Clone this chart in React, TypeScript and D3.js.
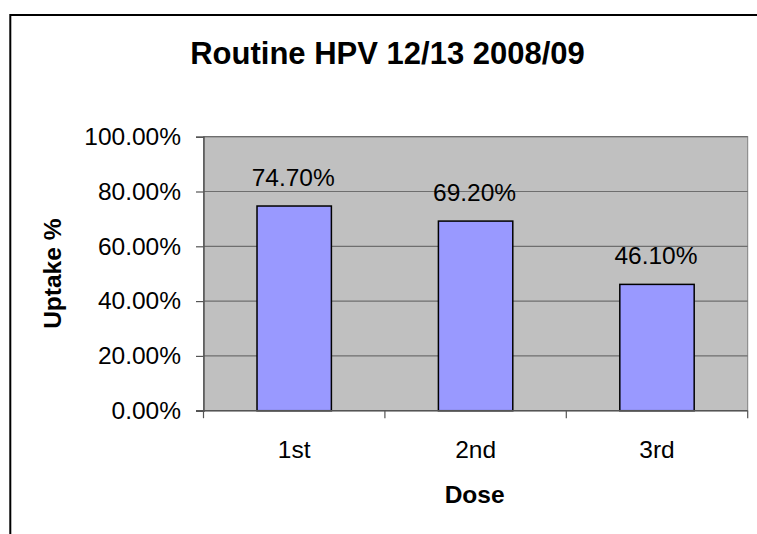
import React, { useRef, useEffect } from "react";
import * as d3 from "d3";

const doses = ["1st", "2nd", "3rd"];
const uptake = [0.747, 0.692, 0.461];
const yTicks = [0, 0.2, 0.4, 0.6, 0.8, 1.0];
const title = "Routine HPV 12/13 2008/09";
const xTitle = "Dose";
const yTitle = "Uptake %";

function App() {
  const ref = useRef<SVGSVGElement | null>(null);

  function drawChart() {
    const [width, height] = [757, 534];
    const font = "'Liberation Sans', Arial, sans-serif";
    const left = 203.5,
      right = 747.7,
      top = 136.7,
      bottom = 410.7;

    const svg = d3.select(ref.current);
    svg.selectAll("*").remove();
    svg.attr("width", width).attr("height", height).attr("viewBox", [0, 0, width, height]);

    svg.append("rect").attr("width", width).attr("height", height).attr("fill", "#fff");

    // chart frame, runs past the page edge on the right and bottom
    svg
      .append("rect")
      .attr("x", 10.3)
      .attr("y", 15)
      .attr("width", 767)
      .attr("height", 600)
      .attr("fill", "none")
      .attr("stroke", "#000")
      .attr("stroke-width", 2);

    const x = d3
      .scaleBand()
      .domain(doses)
      .range([left, right])
      .paddingInner(0.59)
      .paddingOuter(0.295);
    const cat = d3.scaleBand().domain(doses).range([left, right]).padding(0);
    const y = d3.scaleLinear().domain([0, 1]).range([bottom, top]);

    // plot area
    svg
      .append("rect")
      .attr("x", left)
      .attr("y", top)
      .attr("width", right - left)
      .attr("height", bottom - top)
      .attr("fill", "#c0c0c0")
      .attr("stroke", "#808080")
      .attr("stroke-width", 1);

    svg
      .append("g")
      .selectAll("line")
      .data(yTicks.filter((d) => d > 0))
      .join("line")
      .attr("x1", left)
      .attr("x2", right)
      .attr("y1", (d) => y(d))
      .attr("y2", (d) => y(d))
      .attr("stroke", "#6e6e6e")
      .attr("stroke-width", 1.2);

    svg
      .append("g")
      .selectAll("rect")
      .data(uptake)
      .join("rect")
      .attr("x", (d, i) => x(doses[i])!)
      .attr("y", (d) => y(d))
      .attr("width", x.bandwidth())
      .attr("height", (d) => bottom - y(d))
      .attr("fill", "#9999ff")
      .attr("stroke", "#000")
      .attr("stroke-width", 1.5);

    svg
      .append("g")
      .selectAll("text")
      .data(uptake)
      .join("text")
      .attr("x", (d, i) => x(doses[i])! + x.bandwidth() / 2 - 1)
      .attr("y", (d) => y(d) - 20)
      .attr("text-anchor", "middle")
      .attr("font-family", font)
      .attr("font-size", 24.5)
      .attr("fill", "#000")
      .text((d) => d3.format(".2%")(d));

    // y axis
    const gy = svg
      .append("g")
      .attr("transform", `translate(${left},0)`)
      .call(
        d3
          .axisLeft(y)
          .tickValues(yTicks)
          .tickFormat((d) => d3.format(".2%")(d as number))
          .tickSize(7.5)
          .tickPadding(15)
      );
    gy.select(".domain").attr("stroke", "#555").attr("stroke-width", 1.5);
    gy.selectAll(".tick line").attr("stroke", "#555").attr("stroke-width", 1.2);
    gy.selectAll(".tick text")
      .attr("font-family", font)
      .attr("font-size", 24.5)
      .attr("fill", "#000");

    // x axis
    svg
      .append("line")
      .attr("x1", left - 7.5)
      .attr("x2", right)
      .attr("y1", bottom)
      .attr("y2", bottom)
      .attr("stroke", "#555")
      .attr("stroke-width", 1.5);
    const bounds = doses.map((d) => cat(d)!).concat([right]);
    svg
      .append("g")
      .selectAll("line")
      .data(bounds)
      .join("line")
      .attr("x1", (d) => d)
      .attr("x2", (d) => d)
      .attr("y1", bottom)
      .attr("y2", bottom + 7.5)
      .attr("stroke", "#555")
      .attr("stroke-width", 1.2);
    svg
      .append("g")
      .selectAll("text")
      .data(doses)
      .join("text")
      .attr("x", (d) => cat(d)! + cat.bandwidth() / 2)
      .attr("y", 457.5)
      .attr("text-anchor", "middle")
      .attr("font-family", font)
      .attr("font-size", 24.5)
      .attr("fill", "#000")
      .text((d) => d);

    // titles
    svg
      .append("text")
      .attr("x", 387.5)
      .attr("y", 64)
      .attr("text-anchor", "middle")
      .attr("font-family", font)
      .attr("font-weight", "bold")
      .attr("font-size", 31)
      .attr("fill", "#000")
      .text(title);
    svg
      .append("text")
      .attr("x", (left + right) / 2 - 1)
      .attr("y", 503)
      .attr("text-anchor", "middle")
      .attr("font-family", font)
      .attr("font-weight", "bold")
      .attr("font-size", 24.5)
      .attr("fill", "#000")
      .text(xTitle);
    svg
      .append("text")
      .attr("transform", `translate(61,${(top + bottom) / 2}) rotate(-90)`)
      .attr("text-anchor", "middle")
      .attr("font-family", font)
      .attr("font-weight", "bold")
      .attr("font-size", 24.5)
      .attr("fill", "#000")
      .text(yTitle);
  }

  useEffect(() => {
    drawChart();
  }, []);

  return (
    <svg
      ref={ref}
      style={{ position: "absolute", left: 0, top: 0, display: "block" }}
    />
  );
}

export default App;
